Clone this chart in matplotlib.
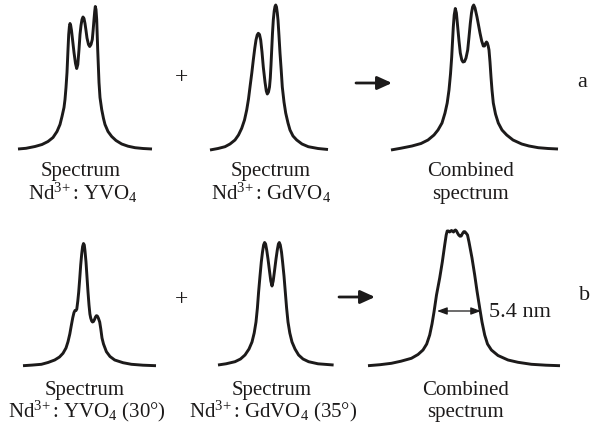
import matplotlib.pyplot as plt

plt.rcParams['font.family'] = 'Liberation Serif'
plt.rcParams['mathtext.fontset'] = 'custom'
plt.rcParams['mathtext.rm'] = 'Liberation Serif'
plt.rcParams['mathtext.it'] = 'Liberation Serif:italic'

INK = '#1c1a1a'
W, H = 600, 430

# spectra: wavelength (arb. units from the left end of
# each trace) and intensity (arb. units above the baseline)
yvo4_x = [0, 8, 17, 24, 30, 35, 39, 42, 44, 46, 47, 48, 49, 50, 50.7, 51.4,
          52, 52.7, 53.5, 54.3, 56, 57.5, 58.7, 59.8, 61, 62, 63, 64, 65, 66,
          67, 68, 69, 70.5, 71.7, 73, 74.3, 75.2, 76, 76.7, 77.3, 78, 78.7,
          79.7, 81, 82, 83.7, 85.5, 87, 90, 93.7, 98, 103.7, 110, 117, 125, 134]
yvo4_y = [0.5, 1.2, 3, 5, 8, 12, 18, 25, 33, 42, 50, 62, 77, 100, 115, 123,
          126, 124, 119, 112, 97, 86, 81, 85, 100, 115, 124, 130, 132.5, 131,
          126, 119, 111.5, 105, 103, 105, 110, 120, 130, 138, 143, 140, 130,
          100, 67, 52, 40, 31, 25, 18, 13, 9, 5.5, 3.3, 1.8, 1, 0.5]

gdvo4_x = [0, 8, 15, 20, 25, 28.5, 31.7, 34.5, 36.7, 38.5, 40, 41.8, 43.3,
           44.8, 46, 47.2, 48.3, 49.5, 50.7, 52, 53.3, 55, 56.3, 57.3, 58.5,
           59.5, 60.3, 61, 61.7, 62.5, 63.3, 64.2, 65, 65.7, 66.5, 67.3, 68,
           69, 70, 71.2, 72.3, 74, 75.7, 78, 80, 83, 86.7, 92, 98.3, 108, 118]
gdvo4_y = [0, 1.5, 3.3, 6, 10, 15, 21.7, 30, 40, 51, 63, 77, 90, 102, 110,
           115, 116.7, 115.5, 110, 98, 83, 68, 59, 56, 58, 63, 72, 85, 100,
           117, 130, 139, 143.5, 145, 143, 137, 130, 114, 97, 80, 63, 48, 37,
           27, 20, 14, 10, 6, 3.3, 1.5, 0.5]

comb_a_x = [0, 10, 21, 30, 37, 43, 47, 51, 54, 56.2, 58, 59.5, 60.7, 61.6,
            62.3, 63.2, 64.3, 65.4, 66.7, 68, 69.3, 70.8, 72, 73.5, 75, 76.7,
            78, 79.3, 80.5, 81.6, 82.7, 84, 86, 87.5, 89, 90.7, 92.3, 93.5,
            94.5, 95.5, 96.3, 97.2, 98, 99, 100, 101, 102.3, 104.5, 107.3, 111,
            115.7, 122, 130.7, 138, 147.3, 157, 167]
comb_a_y = [0, 1.8, 4, 6.5, 10, 15, 20, 27, 37, 47, 60, 76, 93, 110, 123, 135,
            141.5, 137, 123, 109, 97, 90, 88, 88.5, 92, 100, 113, 126.7, 137,
            143, 145, 142, 133, 125, 117, 109, 104, 104, 106.5, 108, 107, 104,
            100, 88, 73, 60, 47, 36, 27, 20, 15, 10, 6, 4, 2.3, 1.5, 1]

yvo4_30_x = [0, 9, 18.4, 25, 31.7, 36.5, 40, 43, 45, 46.8, 48.4, 49.8, 51, 52,
             53, 53.8, 54.8, 55.7, 56.7, 57.7, 58.7, 59.6, 60.5, 61.3, 62, 63,
             64, 65, 66, 66.9, 67.7, 68.7, 69.5, 70.5, 71.5, 72.5, 73.4, 74.3,
             75.3, 76.7, 77.8, 79, 80.5, 83.4, 87, 91.7, 100, 108.4, 120, 133]
yvo4_30_y = [0.3, 0.9, 1.7, 3.5, 6, 9, 12.7, 18, 24.3, 32, 41, 48.5, 53.5,
             55.5, 55.5, 57, 65, 74, 87, 101, 112, 119.5, 122.5, 121, 115, 104,
             89, 74, 61, 52, 48, 45, 44, 44.5, 46.5, 49, 50.3, 50, 48, 44, 37,
             28, 22, 14.3, 9.5, 6, 3.3, 1.7, 0.8, 0.3]

gdvo4_35_x = [0, 8, 17, 22.5, 27, 31, 34, 36.2, 38, 39.4, 40.6, 42, 43.3,
              44.5, 45.6, 46.6, 47.6, 48.7, 50, 51.5, 52.8, 54, 55.2, 56.5, 58,
              59.3, 60.4, 61.3, 62.3, 63.5, 64.6, 66, 67.3, 68.6, 70, 71.8, 74,
              77, 80.6, 85, 90.6, 100, 115.6]
gdvo4_35_y = [0, 1.2, 3.3, 6, 10, 16, 23, 32, 43, 57, 73, 89, 103, 113, 120,
              122.5, 121, 115, 106, 94, 84, 79, 84, 94, 106, 115, 121, 122.5,
              120, 113, 103, 89, 73, 57, 43, 32, 23, 16, 10, 6, 3.3, 1.2, 0]

comb_b_x = [0, 12, 23.4, 33, 43.4, 50, 55, 58.7, 61.7, 64, 66, 68.5, 71.7,
            74.3, 76.7, 78.2, 79.2, 80.5, 81.6, 82.5, 83.5, 84.5, 85.5, 86.5,
            87.5, 88.5, 89.5, 90.7, 92, 93.2, 94.5, 95.8, 96.8, 98, 99.5, 101,
            104, 106.7, 109, 111.7, 114, 116.7, 119.5, 123.4, 130, 140, 150,
            163.4, 178, 192]
comb_b_y = [0.3, 1.3, 2.7, 4.8, 7.7, 11.5, 16, 22, 31, 42, 54, 71, 88, 104,
            121, 131, 135, 135, 134, 134.8, 135.5, 134.8, 134, 135.4, 136, 135,
            133, 131, 129.8, 130, 132.5, 134.3, 134.3, 133, 131, 124, 108, 91,
            75, 58, 44, 31, 22, 16, 10.5, 6, 3.7, 1.7, 0.8, 0.3]

fwhm_x = [69, 113]
fwhm_level = 55
fwhm_label = '5.4 nm'

labels_a = [('Spectrum', r'Nd$^{3\!+}$: YVO$_4$'),
            ('Spectrum', r'Nd$^{3\!+}$: GdVO$_4$'),
            ('Combined', 'spectrum')]
labels_b = [('Spectrum', r'Nd$^{3\!+}$: YVO$_4$ (30°)'),
            ('Spectrum', r'Nd$^{3\!+}$: GdVO$_4$ (35°)'),
            ('Combined', 'spectrum')]

fig = plt.figure(figsize=(6, 4.3), dpi=100, facecolor='white')

# overlay for text and arrows, in pixels measured from the top left
bg = fig.add_axes([0, 0, 1, 1])
bg.set_xlim(0, W)
bg.set_ylim(H, 0)
bg.axis('off')


def spectrum_axes(x0, base, x, y):
    """Small axes with 1 unit = 1 px, left end at x0, baseline at base."""
    ax = fig.add_axes([x0 / W, (H - base) / H, 200 / W, 160 / H])
    ax.set_xlim(0, 200)
    ax.set_ylim(0, 160)
    ax.axis('off')
    ax.patch.set_alpha(0)
    ax.plot(x, y, color=INK, lw=2.1, solid_joinstyle='round',
            solid_capstyle='butt', clip_on=False)
    return ax


spectrum_axes(18, 149.5, yvo4_x, yvo4_y)
spectrum_axes(210, 150, gdvo4_x, gdvo4_y)
spectrum_axes(391, 150, comb_a_x, comb_a_y)
spectrum_axes(23, 366, yvo4_30_x, yvo4_30_y)
spectrum_axes(218, 365, gdvo4_35_x, gdvo4_35_y)
ax_fw = spectrum_axes(368, 366, comb_b_x, comb_b_y)

ax_fw.annotate('', xy=(fwhm_x[0], fwhm_level), xytext=(fwhm_x[1], fwhm_level),
               arrowprops=dict(arrowstyle='<|-|>,head_length=0.6,head_width=0.22',
                               color=INK, lw=0.9, mutation_scale=10,
                               shrinkA=0, shrinkB=0))
ax_fw.text(fwhm_x[1] + 8, fwhm_level - 6, fwhm_label, fontsize=16, color=INK,
           va='baseline', ha='left')

fs = 15
for (l1, l2), cx1, cx2 in zip(labels_a, [80.5, 271, 471], [82.5, 271, 470]):
    bg.text(cx1, 176, l1, fontsize=fs, ha='center', va='baseline', color=INK)
    bg.text(cx2, 199.5, l2, fontsize=fs, ha='center', va='baseline', color=INK)
for (l1, l2), cx1, cx2 in zip(labels_b, [85, 271.5, 466], [86.5, 273, 465.5]):
    bg.text(cx1, 395, l1, fontsize=fs, ha='center', va='baseline', color=INK)
    bg.text(cx2, 417, l2, fontsize=fs, ha='center', va='baseline', color=INK)

for y in [83, 305]:
    bg.text(181.5, y, '+', fontsize=17, ha='center', va='baseline', color=INK)

for x0, x1, y in [(356, 392, 83), (339, 375, 297)]:
    bg.annotate('', xy=(x1, y), xytext=(x0, y),
                arrowprops=dict(arrowstyle='-|>,head_length=0.55,head_width=0.25',
                                color=INK, lw=2.0, mutation_scale=16,
                                shrinkA=0, shrinkB=0))

bg.text(582.5, 87, 'a', fontsize=16, ha='center', va='baseline', color=INK)
bg.text(585, 300, 'b', fontsize=16, ha='center', va='baseline', color=INK)

fig.savefig('out.png', dpi=100, facecolor='white')
